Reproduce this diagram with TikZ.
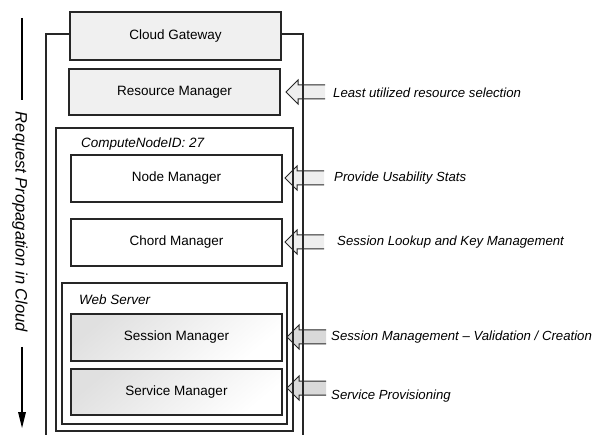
\documentclass[tikz,border=0pt]{standalone}
\usepackage{fontspec}
\setmainfont{Liberation Sans}
\usetikzlibrary{calc}
\definecolor{boxline}{HTML}{262626}
\definecolor{lightfill}{HTML}{F0F0F0}
\definecolor{arrowfill}{HTML}{EEEEEE}
\definecolor{arrowdark}{HTML}{D9D9D9}
\tikzset{
  box/.style={draw=boxline, line width=1.1pt, inner sep=0pt, font=\fontsize{13.5}{16}\selectfont},
  plainbox/.style={box, fill=white},
  greybox/.style={box, fill=lightfill},
  shadedbox/.style={box, top color=black!12, bottom color=white, shading angle=40},
  frame/.style={draw=boxline, line width=1.1pt},
  caption/.style={anchor=west, inner sep=0pt, font=\fontsize{13.2}{16}\selectfont\itshape},
  blockarrow/.style={draw=boxline, line width=1pt, line join=miter},
}
% block arrow pointing left: #1 tip coordinate, #2 fill colour
\newcommand{\leftblock}[2]{%
  \fill[#2] ($(#1)+(39,-7)$) -- ++(-27,0) -- ++(0,-5) -- (#1) -- ++(12,12) -- ++(0,-5) -- ++(27,0) -- cycle;
  \draw[blockarrow] ($(#1)+(39,-7)$) -- ++(-27,0) -- ++(0,-5) -- (#1) -- ++(12,12) -- ++(0,-5) -- ++(27,0);
}
\begin{document}
\begin{tikzpicture}[x=1pt,y=-1pt]
\useasboundingbox (0,0) rectangle (602,435);

% arrow tips next to the managers
\coordinate (tRM) at (286,92);
\coordinate (tNM) at (285,178);
\coordinate (tCM) at (285,242);
\coordinate (tSM) at (287,337);
\coordinate (tSV) at (287,388);
\leftblock{tRM}{arrowfill}
\leftblock{tNM}{arrowfill}
\leftblock{tCM}{arrowfill}
\leftblock{tSM}{arrowdark}
\leftblock{tSV}{arrowdark}

% cloud frame
\draw[frame] (46,436) -- (46,34) -- (70,34);
\draw[frame] (281,34) -- (303,34) -- (303,436);

% gateway and resource manager
\node[greybox, minimum width=211pt, minimum height=48pt] (cg) at (175.5,36) {Cloud Gateway};
\node[greybox, minimum width=211pt, minimum height=46pt] (rm) at (174.5,92) {Resource Manager};

% compute node
\node[box, fill=none, minimum width=237pt, minimum height=303pt] (cn) at (174.5,279.5) {};
\node[caption, font=\fontsize{13.5}{16}\selectfont\itshape] (cnid) at (81,144) {ComputeNodeID: 27};
\node[plainbox, minimum width=211pt, minimum height=47pt] (nm) at (176.5,178.5) {Node Manager};
\node[plainbox, minimum width=211pt, minimum height=47pt] (cm) at (176.5,242.5) {Chord Manager};

% web server
\node[box, fill=none, minimum width=225pt, minimum height=141pt] (ws) at (174.5,353.5) {};
\node[caption, font=\fontsize{13.5}{16}\selectfont\itshape] (wsl) at (79,300) {Web Server};
\node[shadedbox, minimum width=211pt, minimum height=47pt] (sm) at (176.5,337.5) {Session Manager};
\node[shadedbox, minimum width=211pt, minimum height=46pt] (sv) at (176.5,392) {Service Manager};

% right-hand captions
\node[caption] (l1) at (333,93) {Least utilized resource selection};
\node[caption] (l2) at (334,178) {Provide Usability Stats};
\node[caption] (l3) at (337,242) {Session Lookup and Key Management};
\node[caption] (l4) at (331,337) {Session Management – Validation / Creation};
\node[caption] (l5) at (331,396) {Service Provisioning};

% request direction
\node[rotate=-90, inner sep=0pt, font=\fontsize{16.5}{20}\selectfont\itshape] (rp) at (20,222) {Request Propagation in Cloud};
\coordinate (rtop) at (22,18);
\coordinate (rbot) at (22,428);
\draw[line width=1.1pt] (rtop) -- (22,100);
\draw[line width=1.1pt] (22,347) -- (22,414);
\fill (rbot) -- (18,412) -- (26,412) -- cycle;
\end{tikzpicture}
\end{document}
